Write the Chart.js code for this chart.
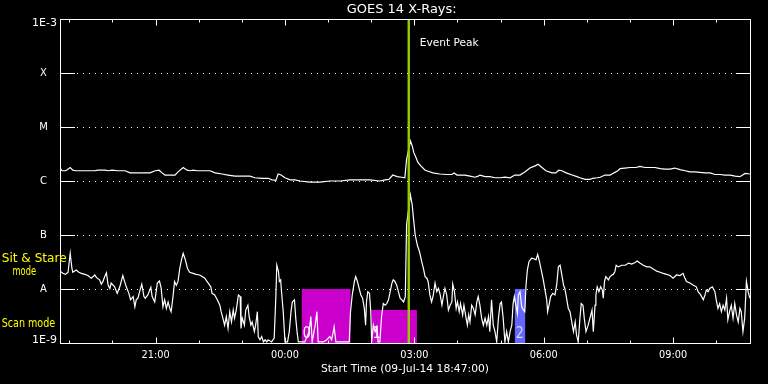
<!DOCTYPE html>
<html><head><meta charset="utf-8">
<script src="https://cdn.jsdelivr.net/npm/chart.js@4/dist/chart.umd.min.js"></script>
<style>html,body{margin:0;padding:0;background:#000;}canvas{display:block;}</style>
</head><body>
<canvas id="c" width="768" height="384"></canvas>
<script>
// Time in hours since 00:00 UT on 09-Jul-14; flux as log10(W/m^2)
const longTimes = [18.78,18.83,18.92,19.02,19.08,19.15,19.36,19.59,19.66,19.83,
 19.90,19.99,20.13,20.29,20.41,20.64,20.87,20.99,21.08,21.15,
 21.22,21.45,21.52,21.64,21.73,21.80,21.87,21.96,22.15,22.26,
 22.38,22.54,22.68,22.84,23.07,23.19,23.30,23.47,23.61,23.70,
 23.79,23.84,23.91,24.00,24.12,24.23,24.35,24.58,24.81,25.04,
 25.28,25.51,25.74,25.97,26.20,26.32,26.41,26.50,26.60,26.71,
 26.78,26.82,26.91,26.95,26.99,27.04,27.08,27.15,27.25,27.32,
 27.43,27.59,27.76,27.87,27.92,27.99,28.17,28.29,28.41,28.48,
 28.52,28.64,28.75,28.87,28.99,29.10,29.22,29.33,29.45,29.57,
 29.68,29.80,29.87,29.96,30.05,30.19,30.28,30.35,30.42,30.52,
 30.66,30.77,30.84,30.96,31.07,31.14,31.24,31.31,31.42,31.54,
 31.58,31.65,31.72,31.77,31.88,32.00,32.14,32.23,32.35,32.46,
 32.58,32.70,32.81,32.93,33.04,33.16,33.28,33.39,33.51,33.62,
 33.74,33.86,33.97,34.09,34.20,34.32,34.44,34.55,34.67,34.78];
const longLog10Flux = [-5.75,-5.81,-5.81,-5.75,-5.80,-5.81,-5.81,-5.81,-5.80,-5.80,
 -5.81,-5.80,-5.81,-5.81,-5.85,-5.85,-5.85,-5.81,-5.80,-5.85,
 -5.89,-5.89,-5.83,-5.75,-5.80,-5.81,-5.80,-5.81,-5.81,-5.81,
 -5.85,-5.87,-5.89,-5.91,-5.91,-5.91,-5.94,-5.95,-5.95,-5.98,
 -5.99,-5.87,-5.89,-5.94,-5.98,-5.98,-6.00,-6.02,-6.02,-6.00,
 -6.00,-5.98,-5.98,-5.98,-6.00,-5.98,-5.97,-5.89,-5.92,-5.93,
 -5.94,-5.60,-5.26,-5.35,-5.48,-5.57,-5.65,-5.72,-5.80,-5.82,
 -5.85,-5.87,-5.88,-5.88,-5.85,-5.89,-5.89,-5.91,-5.93,-5.91,
 -5.89,-5.92,-5.92,-5.94,-5.94,-5.93,-5.94,-5.89,-5.89,-5.83,
 -5.76,-5.72,-5.69,-5.75,-5.81,-5.85,-5.85,-5.80,-5.81,-5.85,
 -5.89,-5.92,-5.94,-5.97,-5.97,-5.95,-5.94,-5.93,-5.89,-5.89,
 -5.87,-5.84,-5.81,-5.77,-5.76,-5.75,-5.75,-5.73,-5.75,-5.75,
 -5.75,-5.77,-5.78,-5.78,-5.76,-5.79,-5.81,-5.83,-5.83,-5.84,
 -5.85,-5.85,-5.88,-5.88,-5.89,-5.89,-5.91,-5.92,-5.86,-5.87];
const shortTimes = [18.80,18.85,18.91,18.97,19.02,19.06,19.08,19.16,19.22,19.28,
 19.36,19.43,19.51,19.59,19.63,19.70,19.74,19.78,19.82,19.86,
 19.90,19.94,19.97,20.05,20.11,20.17,20.24,20.28,20.32,20.38,
 20.42,20.48,20.52,20.55,20.59,20.63,20.68,20.73,20.76,20.82,
 20.89,20.92,20.98,21.04,21.09,21.13,21.17,21.21,21.25,21.29,
 21.33,21.36,21.40,21.44,21.48,21.52,21.56,21.60,21.64,21.69,
 21.74,21.79,21.87,21.94,22.02,22.08,22.14,22.22,22.28,22.31,
 22.37,22.43,22.49,22.52,22.56,22.60,22.64,22.68,22.72,22.76,
 22.80,22.83,22.87,22.92,22.96,22.98,23.01,23.06,23.09,23.14,
 23.17,23.21,23.24,23.29,23.32,23.36,23.38,23.42,23.46,23.50,
 23.54,23.58,23.61,23.69,23.75,23.79,23.81,23.85,23.87,23.90,
 23.92,23.96,24.00,24.06,24.10,24.14,24.17,24.22,24.25,24.28,
 24.31,24.39,24.46,24.56,24.60,24.63,24.70,24.74,24.77,24.89,
 24.97,25.04,25.08,25.12,25.14,25.18,25.49,25.52,25.56,25.61,
 25.64,25.68,25.72,25.76,25.80,25.84,25.87,25.89,25.92,25.96,
 25.99,26.01,26.05,26.09,26.13,26.16,26.20,26.24,26.28,26.32,
 26.36,26.40,26.44,26.48,26.51,26.55,26.59,26.63,26.67,26.71,
 26.75,26.79,26.82,26.91,26.95,26.98,27.02,27.07,27.12,27.17,
 27.21,27.25,27.29,27.32,27.36,27.40,27.44,27.48,27.52,27.56,
 27.60,27.64,27.68,27.71,27.75,27.79,27.83,27.87,27.89,27.93,
 27.97,28.00,28.04,28.07,28.12,28.15,28.20,28.23,28.26,28.29,
 28.33,28.37,28.41,28.45,28.48,28.52,28.56,28.60,28.64,28.68,
 28.72,28.75,28.79,28.83,28.87,28.91,28.95,28.99,29.02,29.06,
 29.10,29.14,29.18,29.22,29.26,29.29,29.32,29.36,29.39,29.41,
 29.45,29.49,29.53,29.56,29.59,29.62,29.66,29.72,29.77,29.82,
 29.86,29.90,29.95,29.99,30.03,30.07,30.09,30.13,30.16,30.21,
 30.26,30.30,30.34,30.38,30.42,30.46,30.49,30.53,30.57,30.61,
 30.65,30.69,30.73,30.76,30.80,30.84,30.87,30.91,30.94,30.98,
 31.03,31.12,31.15,31.19,31.21,31.24,31.28,31.32,31.36,31.38,
 31.41,31.44,31.50,31.54,31.58,31.61,31.65,31.68,31.73,31.81,
 31.89,31.97,32.04,32.12,32.17,32.23,32.31,32.39,32.46,32.54,
 32.62,32.70,32.77,32.85,32.93,33.00,33.08,33.16,33.23,33.27,
 33.31,33.39,33.47,33.54,33.58,33.64,33.70,33.74,33.77,33.81,
 33.85,33.91,33.97,34.00,34.04,34.08,34.12,34.16,34.20,34.24,
 34.27,34.31,34.35,34.39,34.43,34.47,34.51,34.55,34.58,34.62,
 34.66,34.70,34.74,34.78];
const shortLog10Flux = [-7.68,-7.71,-7.73,-7.69,-7.34,-7.62,-7.69,-7.65,-7.69,-7.71,
 -7.73,-7.75,-7.80,-7.74,-7.79,-7.83,-7.91,-7.86,-7.77,-7.70,
 -7.93,-7.99,-7.89,-7.96,-8.08,-7.96,-7.75,-7.86,-7.96,-8.08,
 -8.20,-8.14,-8.33,-8.20,-8.17,-8.05,-7.91,-8.14,-8.17,-8.11,
 -7.97,-8.14,-8.24,-7.89,-7.85,-7.99,-8.33,-8.20,-8.36,-8.24,
 -8.36,-8.42,-8.17,-7.86,-7.93,-7.86,-7.62,-7.46,-7.34,-7.46,
 -7.62,-7.69,-7.71,-7.73,-7.74,-7.77,-7.80,-7.89,-7.96,-8.08,
 -8.11,-8.20,-8.30,-8.42,-8.54,-8.67,-8.51,-8.73,-8.42,-8.61,
 -8.39,-8.54,-8.39,-8.11,-8.14,-8.73,-8.54,-8.67,-8.39,-8.30,
 -8.51,-8.67,-8.61,-8.79,-8.67,-8.42,-8.88,-8.94,-8.88,-8.98,
 -8.94,-8.98,-8.94,-8.98,-8.91,-8.11,-7.56,-7.68,-7.86,-7.83,
 -8.05,-8.42,-8.98,-8.98,-8.79,-8.42,-8.24,-8.20,-8.54,-8.79,
 -8.98,-8.98,-8.98,-8.79,-8.51,-8.98,-8.67,-8.42,-8.98,-8.98,
 -8.94,-8.88,-8.94,-8.79,-8.70,-8.98,-8.98,-8.42,-8.11,-7.86,
 -7.77,-7.86,-7.99,-8.11,-8.17,-8.36,-8.67,-8.24,-8.05,-8.08,
 -8.42,-8.98,-8.67,-8.79,-8.70,-8.98,-8.98,-8.51,-8.27,-8.30,
 -8.27,-8.20,-8.05,-7.89,-7.83,-7.86,-7.93,-8.05,-8.17,-8.20,
 -8.24,-8.14,-6.81,-6.26,-6.44,-6.69,-7.00,-7.19,-7.31,-7.49,
 -7.62,-7.77,-7.80,-7.86,-8.11,-8.24,-8.11,-7.89,-8.05,-7.99,
 -8.11,-8.30,-8.11,-7.99,-8.11,-8.39,-8.30,-8.24,-7.91,-8.05,
 -8.36,-8.24,-8.42,-8.27,-8.48,-8.30,-8.54,-8.67,-8.48,-8.61,
 -8.30,-8.36,-8.48,-8.24,-8.14,-8.30,-8.54,-8.67,-8.54,-8.67,
 -8.51,-8.79,-8.20,-8.67,-8.79,-8.98,-8.54,-8.27,-8.24,-8.54,
 -8.98,-8.79,-8.98,-8.79,-8.67,-8.27,-8.14,-8.33,-8.45,-8.11,
 -8.05,-8.33,-8.39,-8.42,-7.93,-7.65,-7.49,-7.43,-7.44,-7.46,
 -7.36,-7.49,-7.68,-7.83,-8.02,-8.20,-8.42,-8.27,-8.14,-8.08,
 -8.11,-7.93,-7.59,-7.56,-7.74,-7.93,-7.99,-8.17,-8.36,-8.42,
 -8.61,-8.79,-8.61,-8.85,-8.98,-8.54,-8.27,-8.30,-8.54,-8.79,
 -8.67,-8.39,-8.79,-8.30,-8.11,-7.96,-8.05,-7.96,-8.02,-8.17,
 -7.86,-7.77,-7.83,-7.77,-7.74,-7.73,-7.68,-7.56,-7.59,-7.56,
 -7.56,-7.52,-7.54,-7.51,-7.48,-7.52,-7.56,-7.59,-7.59,-7.63,
 -7.67,-7.69,-7.71,-7.73,-7.75,-7.80,-7.74,-7.75,-7.71,-7.79,
 -7.86,-7.89,-7.93,-7.96,-8.05,-8.11,-8.20,-8.11,-8.02,-8.05,
 -7.99,-7.96,-8.05,-8.20,-8.36,-8.27,-8.42,-8.30,-8.39,-8.17,
 -8.57,-8.42,-8.30,-8.54,-8.27,-8.48,-8.61,-8.36,-8.42,-8.79,
 -8.54,-7.86,-8.05,-8.17];

const classTickValues = [1e-9, 1e-8, 1e-7, 1e-6, 1e-5, 1e-4, 1e-3];
const classTickLabels = ['1E-9', 'A', 'B', 'C', 'M', 'X', '1E-3'];
const hourTicks = [19,20,21,22,23,24,25,26,27,28,29,30,31,32,33,34];
const hourLabelTicks = [21, 24, 27, 30, 33];
const hourLabels = ['21:00', '00:00', '03:00', '06:00', '09:00'];
const modeBoxStart = [24.39, 26.01, 29.33];
const modeBoxEnd = [25.52, 27.06, 29.57];
const modeBoxTop = [1e-8, 4.1e-9, 1e-8];
const modeBoxLabels = ['0', '1', '2'];
const modeBoxKinds = ['scan', 'scan', 'stare'];
const eventPeakTime = 26.87;
const startHour = 18 + 47/60;
const endHour = startHour + 16;

const FONT = '"DejaVu Sans"';
function fitText(ctx, text, x, y, size, width, align, color) {
  ctx.save();
  ctx.font = size + 'px ' + FONT;
  ctx.fillStyle = color;
  ctx.textBaseline = 'middle';
  ctx.textAlign = 'left';
  const w = ctx.measureText(text).width;
  const sx = width ? width / w : 1;
  const rw = w * sx;
  const left = align === 'center' ? x - rw / 2 : (align === 'right' ? x - rw : x);
  ctx.translate(left, y);
  ctx.scale(sx, 1);
  ctx.fillText(text, 0, 0);
  ctx.restore();
}

const goesPlugin = {
  id: 'goes',
  beforeDraw(chart) {
    const ctx = chart.ctx;
    ctx.save(); ctx.fillStyle = '#000'; ctx.fillRect(0, 0, chart.width, chart.height); ctx.restore();
  },
  beforeDatasetsDraw(chart) {
    const ctx = chart.ctx, a = chart.chartArea, xS = chart.scales.x, yS = chart.scales.y;
    ctx.save();
    ctx.strokeStyle = '#fff'; ctx.lineWidth = 1;
    for (let i = 1; i < classTickValues.length - 1; i++) {
      const y = Math.round(yS.getPixelForValue(classTickValues[i])) + 0.5;
      ctx.setLineDash([]);
      ctx.beginPath();
      ctx.moveTo(a.left, y); ctx.lineTo(a.left + 15, y);
      ctx.moveTo(a.right - 14, y); ctx.lineTo(a.right, y);
      ctx.stroke();
      ctx.setLineDash([1, 5]);
      ctx.beginPath();
      ctx.moveTo(a.left + 17, y); ctx.lineTo(a.right - 15, y);
      ctx.stroke();
    }
    ctx.setLineDash([]);
    // mode boxes
    for (let i = 0; i < modeBoxStart.length; i++) {
      const x0 = xS.getPixelForValue(modeBoxStart[i]);
      const x1 = xS.getPixelForValue(modeBoxEnd[i]);
      const yt = yS.getPixelForValue(modeBoxTop[i]);
      ctx.fillStyle = modeBoxKinds[i] === 'scan' ? '#cc00cc' : '#6666ff';
      ctx.fillRect(x0, yt, x1 - x0, a.bottom - yt);
      fitText(ctx, modeBoxLabels[i], x0 + 5, a.bottom - 9, 16, 8, 'center',
        modeBoxKinds[i] === 'scan' ? '#ffffff' : '#d8d8ff');
    }
    ctx.restore();
  },
  afterDatasetsDraw(chart) {
    const ctx = chart.ctx, a = chart.chartArea, xS = chart.scales.x, yS = chart.scales.y;
    ctx.save();
    // event peak line
    const xp = xS.getPixelForValue(eventPeakTime);
    ctx.fillStyle = '#99cc00';
    ctx.fillRect(xp - 1.2, a.top, 2.4, a.bottom - a.top);
    fitText(ctx, 'Event Peak', xp + 11, 43, 11, 59, 'left', '#ffffff');
    // frame
    ctx.strokeStyle = '#fff'; ctx.lineWidth = 1;
    ctx.strokeRect(a.left + 0.5, a.top + 0.5, a.right - a.left, a.bottom - a.top);
    // x ticks
    ctx.beginPath();
    hourTicks.forEach(h => {
      const x = Math.round(xS.getPixelForValue(h)) + 0.5;
      const len = hourLabelTicks.includes(h) ? 6.5 : 3.5;
      ctx.moveTo(x, a.top); ctx.lineTo(x, a.top + len);
      ctx.moveTo(x, a.bottom + 1); ctx.lineTo(x, a.bottom + 1 - len);
    });
    ctx.stroke();
    // x labels
    hourLabelTicks.forEach((h, i) => {
      fitText(ctx, hourLabels[i], xS.getPixelForValue(h), 355.5, 10, 28, 'center', '#fff');
    });
    fitText(ctx, 'Start Time (09-Jul-14 18:47:00)', (a.left + a.right) / 2, 369, 11, 168, 'center', '#fff');
    // y labels
    classTickValues.forEach((v, i) => {
      const y = yS.getPixelForValue(v);
      const lab = classTickLabels[i];
      if (lab.length > 1) {
        const yy = Math.min(Math.max(y, a.top + 4), a.bottom - 3);
        fitText(ctx, lab, 57, yy, 10, 25, 'right', '#fff');
      } else {
        fitText(ctx, lab, 43.5, y + 0.5, 10, null, 'center', '#fff');
      }
    });
    // title
    fitText(ctx, 'GOES 14 X-Rays:', 401.7, 9.5, 12, 110, 'center', '#fff');
    // mode labels
    fitText(ctx, 'Sit & Stare', 1.7, 259.3, 12, 65, 'left', '#ffff00');
    fitText(ctx, 'mode', 24.3, 271.5, 12, 23.5, 'center', '#ffff00');
    fitText(ctx, 'Scan mode', 1.7, 324, 12, 53.5, 'left', '#ffff00');
    ctx.restore();
  }
};

const toPoints = (ts, ls) => ts.map((t, i) => ({ x: t, y: Math.pow(10, ls[i]) }));

new Chart(document.getElementById('c'), {
  type: 'line',
  data: {
    datasets: [
      { label: '1-8 A', data: toPoints(longTimes, longLog10Flux), borderColor: '#ffffff', borderWidth: 1.2, pointRadius: 0, tension: 0, fill: false },
      { label: '0.5-4 A', data: toPoints(shortTimes, shortLog10Flux), borderColor: '#ffffff', borderWidth: 1.2, pointRadius: 0, tension: 0, fill: false }
    ]
  },
  options: {
    responsive: false,
    devicePixelRatio: 1,
    animation: false,
    parsing: true,
    layout: { padding: { left: 60, right: 18, top: 19, bottom: 41 } },
    plugins: { legend: { display: false }, tooltip: { enabled: false }, title: { display: false } },
    scales: {
      x: { type: 'linear', min: startHour, max: endHour, display: false },
      y: { type: 'logarithmic', min: 1e-9, max: 1e-3, display: false }
    }
  },
  plugins: [goesPlugin]
});
</script>
</body></html>
